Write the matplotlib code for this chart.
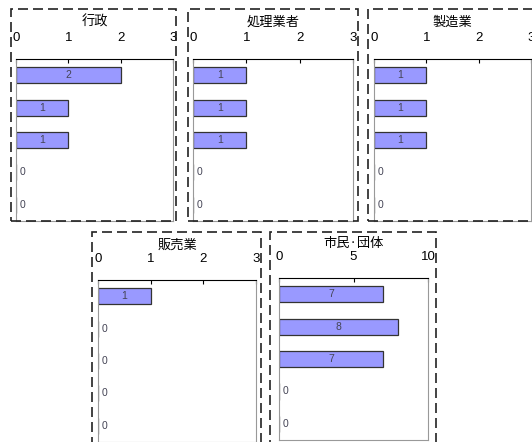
import matplotlib
matplotlib.use("Agg")
import matplotlib.pyplot as plt
from matplotlib.patches import Rectangle

plt.rcParams['font.family'] = ['Liberation Sans', 'Noto Sans CJK JP', 'DejaVu Sans']

titles = ['行政', '処理業者', '製造業', '販売業', '市民·団体']
values = [
    [2, 1, 1, 0, 0],
    [1, 1, 1, 0, 0],
    [1, 1, 1, 0, 0],
    [1, 0, 0, 0, 0],
    [7, 8, 7, 0, 0],
]
xmax = [3, 3, 3, 3, 10]
xstep = [1, 1, 1, 1, 5]

W, H = 532, 442
fig = plt.figure(figsize=(W / 100, H / 100), dpi=100)

# pixel layout: axes (left, top, width, height), frame (left, top, right, bottom), title y
axes_px = [(16, 59, 157, 162), (193, 59, 160, 162), (374, 59, 157, 162),
           (98, 280, 158, 162), (279, 278, 149, 162)]
frames_px = [(11, 9, 176, 221), (188, 9, 358, 221), (368, 9, 545, 221),
             (92, 232, 261, 460), (270, 232, 436, 460)]
title_y = [22, 22, 22, 245, 243]


def px_rect(l, t, w, h):
    return [l / W, 1 - (t + h) / H, w / W, h / H]


for i, (name, vals) in enumerate(zip(titles, values)):
    l, t, w, h = axes_px[i]
    ax = fig.add_axes(px_rect(l, t, w, h))
    y = list(range(len(vals)))
    ax.barh(y, vals, height=0.5, color='#9999ff', edgecolor='#333333', linewidth=0.9)
    ax.set_xlim(0, xmax[i])
    ax.set_ylim(len(vals) - 0.5, -0.5)
    ax.set_xticks(list(range(0, xmax[i] + 1, xstep[i])))
    ax.set_yticks([])
    ax.xaxis.tick_top()
    ax.tick_params(axis='x', direction='in', length=3, pad=11, labelsize=9.5,
                   colors='black', width=0.8)
    for s in ['left', 'right', 'bottom']:
        ax.spines[s].set_color('#999999')
    ax.spines['top'].set_color('black')
    for yy, v in zip(y, vals):
        if v > 0:
            ax.text(v / 2, yy, str(v), ha='center', va='center', fontsize=7.5, color='#444455')
        else:
            ax.annotate(str(v), (0, yy), xytext=(5, 0), textcoords='offset points',
                        ha='center', va='center', fontsize=7.5, color='#444455')
    fig.text((l + w / 2) / W, 1 - title_y[i] / H, name, ha='center', va='center',
             fontsize=9.5, family=['Noto Sans CJK JP', 'DejaVu Sans'])
    fl, ft, fr, fb = frames_px[i]
    fig.patches.append(Rectangle((fl / W, 1 - fb / H), (fr - fl) / W, (fb - ft) / H,
                                 transform=fig.transFigure, fill=False,
                                 edgecolor='#222222', linestyle=(0, (6, 3)), linewidth=1.2))

fig.savefig('out.png', dpi=100)
